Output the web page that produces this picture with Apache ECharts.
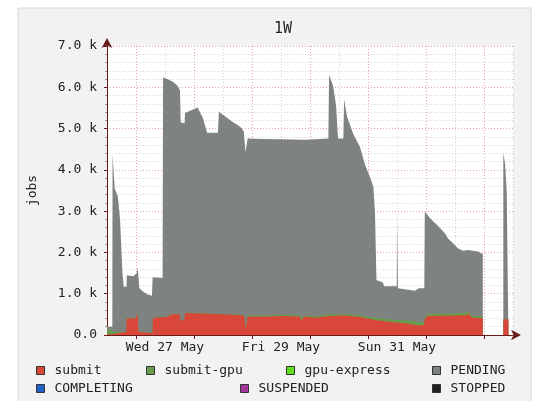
<!DOCTYPE html>
<html>
<head>
<meta charset="utf-8">
<script src="https://cdn.jsdelivr.net/npm/echarts@6/dist/echarts.min.js"></script>
<style>
html, body { margin: 0; padding: 0; background: #fff; }
#main { width: 535px; height: 401px; }
</style>
</head>
<body>
<div id="main"></div>
<script>
// hours counted from Wed 27 May 00:00, plot runs -12 .. 156
// outline of the whole stack (submit + submit-gpu + PENDING), jobs
const pendingHours = [
  -12.0, -9.8, -9.7, -8.8, -7.5, -6.6, -5.6, -5.1, -3.9, -3.8,
  -1.0, 0.3, 0.6, 0.9, 1.3, 1.4, 3.0, 4.6, 6.6, 6.9,
  11.0, 11.2, 13.5, 15.4, 17.0, 18.2, 18.5, 20.1, 20.3, 25.5,
  27.7, 29.4, 30.0, 33.9, 34.3, 36.8, 39.7, 42.2, 43.5, 44.6,
  45.3, 45.8, 46.2, 52.0, 60.0, 70.0, 76.0, 79.6, 79.9, 81.5,
  82.8, 83.6, 85.8, 86.1, 87.3, 89.8, 92.7, 94.8, 96.8, 98.2,
  98.9, 99.5, 102.2, 102.6, 107.9, 108.0, 108.3, 108.4, 113.4, 115.4,
  117.0, 119.3, 119.5, 121.7, 125.0, 127.9, 129.1, 131.2, 133.2, 135.3,
  137.4, 139.5, 141.5, 143.5, 143.6, 152.0, 152.7, 153.4, 154.1
];
const stackTop = [
  200, 200, 4360, 3550, 3350, 2800, 1500, 1170, 1170, 1450,
  1420, 1500, 1630, 1500, 1500, 1130, 1050, 990, 950, 1400,
  1380, 6240, 6190, 6130, 6050, 5930, 5150, 5130, 5380, 5510,
  5250, 4900, 4880, 4900, 5410, 5300, 5170, 5080, 5020, 4930,
  4430, 4440, 4760, 4750, 4740, 4730, 4750, 4760, 6300, 6050,
  5550, 4760, 4760, 5710, 5300, 4880, 4550, 4120, 3830, 3590,
  2950, 1330, 1270, 1180, 1180, 2840, 2840, 1130, 1090, 1070,
  1130, 1130, 2990, 2830, 2640, 2460, 2340, 2220, 2100, 2040,
  2060, 2040, 2020, 1960, null, 4400, 4160, 3470, 3470
];
// submit (bottom layer) and submit-gpu sitting on it
const submitHours = [
  -12.0, -9.8, -9.7, -4.0, -3.9, -0.1, 0.5, 0.8, 1.0, 6.8,
  7.0, 11.0, 13.3, 14.8, 18.0, 18.4, 19.9, 20.3, 28.0, 36.0,
  44.0, 44.9, 45.3, 45.7, 46.2, 55.0, 60.0, 67.5, 68.6, 69.5,
  74.0, 80.0, 86.0, 92.0, 99.5, 105.0, 110.0, 114.0, 117.0, 119.0,
  119.5, 120.5, 137.0, 137.6, 138.2, 140.0, 143.5, 143.6, 152.0, 154.1
];
const submit = [
  20, 20, 60, 70, 400, 400, 530, 400, 80, 40,
  420, 430, 450, 500, 500, 360, 360, 530, 520, 500,
  480, 450, 120, 150, 440, 450, 460, 450, 360, 450,
  420, 460, 470, 440, 360, 320, 290, 260, 230, 240,
  380, 460, 480, 540, 460, 410, 410, null, 380, 380
];
const submitGpu = [
  110, 110, 20, 10, 10, 10, 10, 10, 10, 10,
  10, 10, 10, 10, 10, 10, 10, 10, 10, 10,
  10, 10, 10, 10, 30, 30, 30, 30, 30, 30,
  30, 40, 40, 40, 50, 60, 70, 80, 80, 80,
  50, 50, 50, 60, 50, 50, 50, null, 0, 0
];
const xLabels = { 12: 'Wed 27 May', 60: 'Fri 29 May', 108: 'Sun 31 May' };
const midnights = [0, 24, 48, 72, 96, 120, 144];

// layers drawn back to front, each from zero up to its cumulative top
const gpuTop = submit.map((s, i) => s == null ? null : s + submitGpu[i]);
const pairs = (xs, ys) => xs.map((h, i) => [h, ys[i]]);

const font = 'DejaVu Sans Mono';
const chart = echarts.init(document.getElementById('main'));

function area(name, color, data, z) {
  return {
    name: name, type: 'line', symbol: 'none', z: z,
    xAxisIndex: 0, data: data, color: color,
    lineStyle: { width: 0 }, areaStyle: { color: color, opacity: 1, origin: 'start' },
    emphasis: { disabled: true }
  };
}

function legendAt(name, left, top) {
  return {
    data: [name], left: left, top: top, padding: 0, selectedMode: false,
    icon: 'rect', itemWidth: 8, itemHeight: 8,
    itemStyle: { borderColor: '#333', borderWidth: 1 },
    textStyle: { fontFamily: font, fontSize: 13, color: '#222', padding: [0, 0, 0, 5] }
  };
}

const option = {
  animation: false,
  backgroundColor: '#fff',
  graphic: [{
    type: 'rect', z: -100, shape: { x: 18, y: 8, width: 513, height: 400 },
    style: { fill: '#f2f2f2', stroke: '#d6d6d6', lineWidth: 1 }
  }],
  title: {
    text: '1W', left: 274, top: 22, padding: 0,
    textStyle: { fontFamily: font, fontSize: 15, fontWeight: 'normal', color: '#222' }
  },
  legend: [
    legendAt('submit', 36, 364),
    legendAt('submit-gpu', 146, 364),
    legendAt('gpu-express', 286, 364),
    legendAt('PENDING', 432, 364),
    legendAt('COMPLETING', 36, 382),
    legendAt('SUSPENDED', 240, 382),
    legendAt('STOPPED', 432, 382)
  ],
  grid: { left: 107, right: 22, top: 46, bottom: 66, show: true, backgroundColor: '#fff', borderWidth: 0 },
  xAxis: [{
    type: 'value', min: -12, max: 156, interval: 12,
    axisLine: { show: true, onZero: false, symbol: ['none', 'arrow'], symbolSize: [8, 10], symbolOffset: [0, 8],
      lineStyle: { color: '#6a1c1c', width: 1 } },
    axisTick: { show: false },
    axisLabel: { show: false },
    splitLine: { show: true, lineStyle: { color: '#d4d4d4', type: [1, 2] } }
  }, {
    type: 'value', min: -12, max: 156, interval: 12, position: 'bottom',
    axisLine: { show: false },
    axisTick: { show: true, customValues: midnights, length: 4, lineStyle: { color: '#6a1c1c' } },
    axisLabel: {
      show: true, customValues: [12, 60, 108], margin: 6,
      fontFamily: font, fontSize: 13, color: '#222',
      formatter: v => xLabels[v] || ''
    },
    splitLine: { show: true, lineStyle: { color: '#e7a7a7', type: [1, 2] } }
  }],
  yAxis: {
    type: 'value', min: 0, max: 7000, interval: 1000,
    name: 'jobs', nameLocation: 'middle', nameGap: 68, nameRotate: 90,
    nameTextStyle: { fontFamily: font, fontSize: 13, color: '#222' },
    axisLine: { show: true, onZero: false, symbol: ['none', 'arrow'], symbolSize: [8, 10], symbolOffset: [0, 8],
      lineStyle: { color: '#6a1c1c', width: 1 } },
    axisTick: { show: true, length: 3, lineStyle: { color: '#6a1c1c' } },
    minorTick: { show: true, splitNumber: 5, length: 2, lineStyle: { color: '#999' } },
    axisLabel: {
      margin: 10, fontFamily: font, fontSize: 13, color: '#222',
      formatter: v => v === 0 ? '0.0' : (v / 1000).toFixed(1) + ' k'
    },
    splitLine: { show: true, lineStyle: { color: '#e7a7a7', type: [1, 2] } },
    minorSplitLine: { show: true, lineStyle: { color: '#d4d4d4', type: [1, 2] } }
  },
  series: [
    area('PENDING', '#7e8381', pairs(pendingHours, stackTop), 2),
    area('submit-gpu', '#6a9c4e', pairs(submitHours, gpuTop), 3),
    area('submit', '#d9473b', pairs(submitHours, submit), 4),
    area('gpu-express', '#5ee01e', [], 5),
    area('COMPLETING', '#2262c6', [], 5),
    area('SUSPENDED', '#a3359f', [], 5),
    area('STOPPED', '#222222', [], 5)
  ]
};
chart.setOption(option);
</script>
</body>
</html>
